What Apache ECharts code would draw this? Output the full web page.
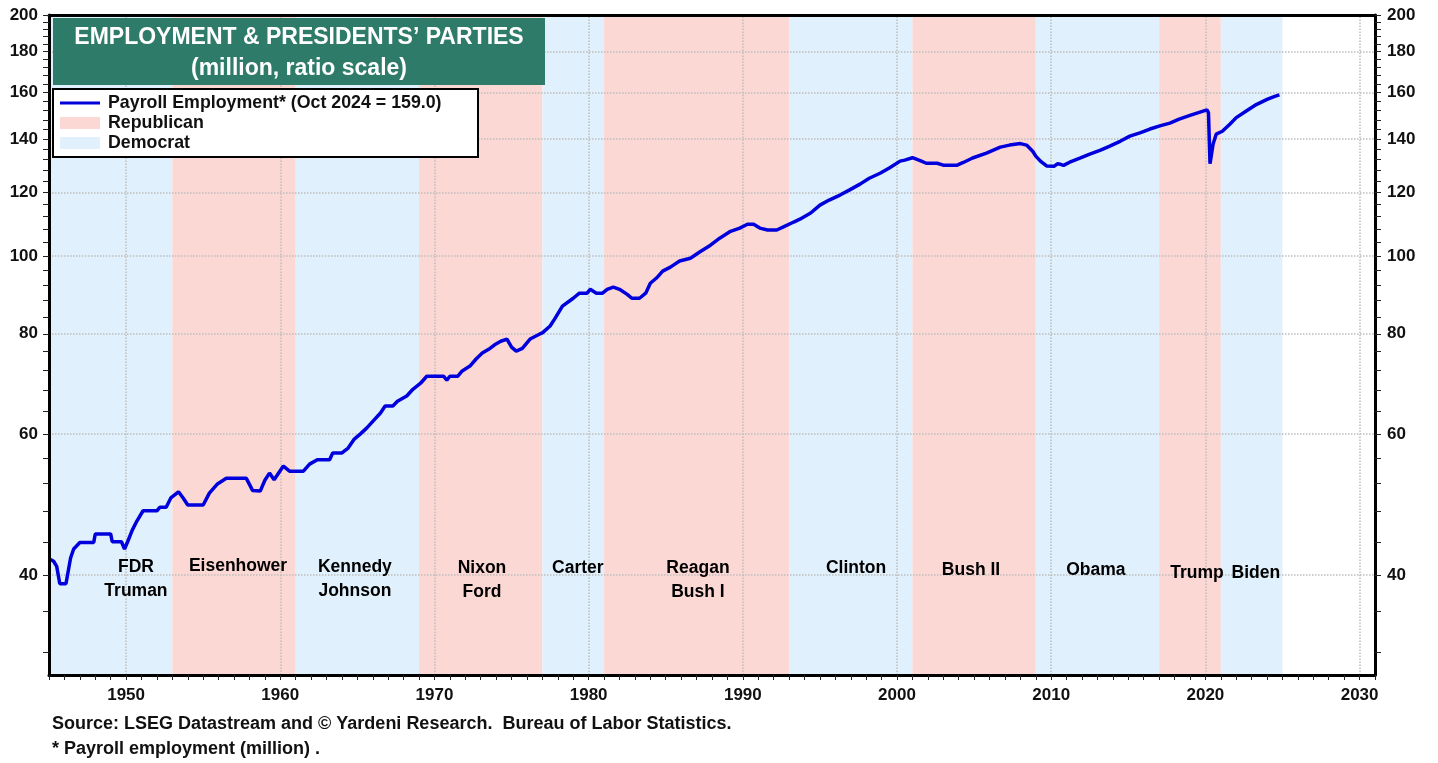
<!DOCTYPE html>
<html><head><meta charset="utf-8">
<script src="https://cdn.jsdelivr.net/npm/echarts@6/dist/echarts.min.js"></script>
<style>html,body{margin:0;padding:0;background:#fff}#chart{width:1438px;height:763px}</style>
</head><body><div id="chart"></div>
<script>
// ---- DATA ----
const dates = [1945.0,1945.3,1945.5,1945.7,1946.1,1946.4,1946.6,1947.0,1947.9,1948.0,1949.0,1949.1,1949.7,1949.9,1950.1,1950.4,1950.7,1951.1,1952.0,1952.2,1952.6,1952.9,1953.4,1953.7,1954.0,1955.0,1955.4,1955.9,1956.5,1957.8,1958.2,1958.7,1959.0,1959.3,1959.6,1960.2,1960.6,1961.5,1961.9,1962.4,1963.2,1963.4,1964.0,1964.4,1964.8,1965.2,1965.6,1966.0,1966.5,1966.8,1967.3,1967.6,1968.2,1968.6,1969.1,1969.5,1970.6,1970.8,1971.0,1971.5,1971.8,1972.3,1972.7,1973.1,1973.6,1973.9,1974.3,1974.7,1975.0,1975.3,1975.7,1976.2,1976.8,1977.0,1977.5,1977.8,1978.3,1979.0,1979.4,1979.9,1980.1,1980.5,1980.9,1981.2,1981.6,1982.0,1982.5,1982.8,1983.3,1983.7,1984.0,1984.4,1984.8,1985.3,1985.9,1986.6,1987.2,1987.9,1988.5,1989.2,1989.8,1990.3,1990.7,1991.1,1991.6,1992.2,1992.6,1993.3,1993.7,1994.4,1995.0,1995.6,1996.3,1996.9,1997.6,1998.2,1998.9,1999.5,2000.2,2000.5,2001.0,2001.5,2001.9,2002.6,2003.0,2003.9,2004.3,2004.9,2005.8,2006.7,2007.3,2008.0,2008.4,2008.8,2009.0,2009.3,2009.7,2010.2,2010.4,2010.6,2010.8,2011.2,2011.9,2012.5,2013.2,2013.8,2014.5,2015.1,2015.8,2016.4,2017.1,2017.7,2018.3,2019.0,2019.6,2020.1,2020.2,2020.3,2020.5,2020.7,2021.1,2021.6,2022.0,2022.7,2023.3,2024.0,2024.5,2024.8];
const payroll = [41.9,41.6,41.0,39.0,39.0,42.0,43.1,43.9,43.9,45.0,45.0,44.0,44.0,43.1,44.0,45.5,46.7,48.1,48.1,48.6,48.6,49.9,50.8,49.9,48.9,48.9,50.6,51.9,52.8,52.8,51.0,50.9,52.5,53.6,52.6,54.7,53.9,53.9,55.0,55.7,55.7,56.8,56.8,57.6,59.1,60.0,61.0,62.2,63.7,65.0,65.0,65.9,66.9,68.2,69.4,70.8,70.8,70.0,70.8,70.8,71.9,72.9,74.4,75.7,76.7,77.5,78.3,78.8,77.0,76.1,76.7,78.8,79.9,80.2,81.8,83.5,86.6,88.6,89.9,89.9,90.9,89.9,89.9,90.9,91.5,90.9,89.6,88.6,88.6,89.9,92.5,93.9,95.8,96.9,98.6,99.4,101.2,103.2,105.3,107.4,108.4,109.6,109.6,108.4,107.8,107.8,108.7,110.3,111.2,113.2,115.8,117.5,119.2,120.9,123.0,125.1,126.9,128.8,131.4,131.8,132.7,131.6,130.6,130.6,129.9,129.9,130.9,132.6,134.5,136.8,137.6,138.2,137.6,135.2,133.3,131.4,129.6,129.5,130.4,130.2,129.8,131.0,132.6,134.1,135.6,137.2,139.2,141.2,142.6,144.1,145.5,146.6,148.3,149.9,151.2,152.3,151.0,130.4,138.0,142.0,143.2,146.2,148.9,152.0,154.6,156.9,158.3,159.0];

const termStart = [1945,1953,1961,1969,1977,1981,1993,2001,2009,2017,2021];
const termEnd   = [1953,1961,1969,1977,1981,1993,2001,2009,2017,2021,2025];
const termParty = ['Democrat','Republican','Democrat','Republican','Democrat','Republican','Democrat','Republican','Democrat','Republican','Democrat'];
const termNames = ['FDR\nTruman','Eisenhower','Kennedy\nJohnson','Nixon\nFord','Carter','Reagan\nBush I','Clinton','Bush II','Obama','Trump','Biden'];

const yTickLabels = [40,60,80,100,120,140,160,180,200];
const xTickLabels = [1950,1960,1970,1980,1990,2000,2010,2020,2030];

// ---- LAYOUT / STYLE ----
const nameAnchors = [[1950.64,39.5],[1957.26,41.0],[1964.84,39.5],[1973.08,39.4],[1979.3,40.8],[1987.09,39.4],[1997.34,40.8],[2004.8,40.5],[2012.9,40.5],[2019.45,40.2],[2023.27,40.2]];
const partyColor = {Republican:'#fcd8d5', Democrat:'#e0f0fc'};
const lineColor = '#0000dc';
const FONT = '"Liberation Sans", Arial, sans-serif';

const yMinorTicks = []; for (let v = 32; v <= 200; v += 4) yMinorTicks.push(v);
const xYearTicks = []; for (let y = 1945; y <= 2031; y++) xYearTicks.push(y);

const chart = echarts.init(document.getElementById('chart'), null, {renderer:'canvas'});

const yAxisCommon = {
  type:'log', logBase:10, min:30, max:200, z:10,
  axisLine:{show:true, lineStyle:{color:'#000', width:3}},
  axisTick:{show:true, inside:false, length:6, customValues:yMinorTicks, lineStyle:{color:'#222', width:1}},
  axisLabel:{customValues:yTickLabels, fontFamily:FONT, fontWeight:'bold', fontSize:17, color:'#111', formatter:v=>String(Math.round(v))},
  splitLine:{show:false}, minorTick:{show:false}
};

chart.setOption({
  animation:false,
  backgroundColor:'#fff',
  grid:{left:49, right:63, top:15, bottom:88, containLabel:false},
  xAxis:[
    {type:'value', min:1945, max:2031, position:'bottom', z:10,
     axisLine:{show:true, onZero:false, lineStyle:{color:'#000', width:3}},
     axisTick:{show:true, length:5, customValues:xYearTicks, lineStyle:{color:'#222'}},
     axisLabel:{customValues:xTickLabels, margin:12, fontFamily:FONT, fontWeight:'bold', fontSize:17, color:'#111', formatter:v=>String(v)},
     splitLine:{show:false}},
    {type:'value', min:1945, max:2031, position:'top', z:10,
     axisLine:{show:true, onZero:false, lineStyle:{color:'#000', width:3}},
     axisTick:{show:false}, axisLabel:{show:false}, splitLine:{show:false}}
  ],
  yAxis:[
    Object.assign({}, yAxisCommon, {position:'left', axisLabel:Object.assign({}, yAxisCommon.axisLabel, {margin:11})}),
    Object.assign({}, yAxisCommon, {position:'right', axisLabel:Object.assign({}, yAxisCommon.axisLabel, {margin:12})})
  ],
  series:[
    {name:'bands', type:'line', data:[], z:1, silent:true,
     markArea:{silent:true, label:{show:false},
       data: termStart.map((s,i)=>[{xAxis:s, itemStyle:{color:partyColor[termParty[i]]}},{xAxis:termEnd[i]}])}},
    {name:'grid', type:'line', data:[], z:2, silent:true,
     markLine:{silent:true, symbol:'none', label:{show:false},
       lineStyle:{type:'dotted', color:'#bdbdbd', width:1.5},
       data:[...yTickLabels.filter(v=>v<200).map(v=>({yAxis:v})), ...xTickLabels.map(v=>({xAxis:v}))]}},
    {name:'Payroll Employment', type:'line', z:5, showSymbol:false, symbol:'none',
     lineStyle:{color:lineColor, width:3.5}, data: dates.map((d,i)=>[d, payroll[i]])},
    {name:'presidents', type:'scatter', z:6, symbolSize:0, silent:true,
     itemStyle:{opacity:1},
     data: termNames.map((n,i)=>({value:nameAnchors[i], name:n})),
     label:{show:true, position:'inside', formatter:p=>p.name, fontFamily:FONT, fontWeight:'bold', fontSize:17.5, lineHeight:24, color:'#000', opacity:1, align:'center'}}
  ],
  graphic:[
    {type:'rect', left:53, top:18, shape:{width:492, height:67}, style:{fill:'#2f7b6a'}, z:20},
    {type:'text', x:299, y:38, style:{text:'EMPLOYMENT & PRESIDENTS\u2019 PARTIES', fill:'#fff', font:'bold 23px '+FONT, textAlign:'center', textVerticalAlign:'middle'}, z:21},
    {type:'text', x:299, y:69, style:{text:'(million, ratio scale)', fill:'#fff', font:'bold 23px '+FONT, textAlign:'center', textVerticalAlign:'middle'}, z:21},
    {type:'rect', shape:{x:53, y:89, width:425, height:68}, style:{fill:'#fff', stroke:'#000', lineWidth:2}, z:20},
    {type:'line', shape:{x1:60, y1:103, x2:100, y2:103}, style:{stroke:lineColor, lineWidth:3}, z:21},
    {type:'rect', shape:{x:60, y:117, width:40, height:12}, style:{fill:partyColor.Republican}, z:21},
    {type:'rect', shape:{x:60, y:137, width:40, height:12}, style:{fill:partyColor.Democrat}, z:21},
    {type:'text', x:108, y:103, style:{text:'Payroll Employment* (Oct 2024 = 159.0)', fill:'#111', font:'bold 17.8px '+FONT, textVerticalAlign:'middle'}, z:21},
    {type:'text', x:108, y:123, style:{text:'Republican', fill:'#111', font:'bold 17.8px '+FONT, textVerticalAlign:'middle'}, z:21},
    {type:'text', x:108, y:143, style:{text:'Democrat', fill:'#111', font:'bold 17.8px '+FONT, textVerticalAlign:'middle'}, z:21},
    {type:'text', x:52, y:724, style:{text:'Source: LSEG Datastream and \u00a9 Yardeni Research.  Bureau of Labor Statistics.', fill:'#111', font:'bold 18px '+FONT, textVerticalAlign:'middle'}, z:21},
    {type:'text', x:52, y:749, style:{text:'* Payroll employment (million) .', fill:'#111', font:'bold 18px '+FONT, textVerticalAlign:'middle'}, z:21}
  ]
});
</script></body></html>
